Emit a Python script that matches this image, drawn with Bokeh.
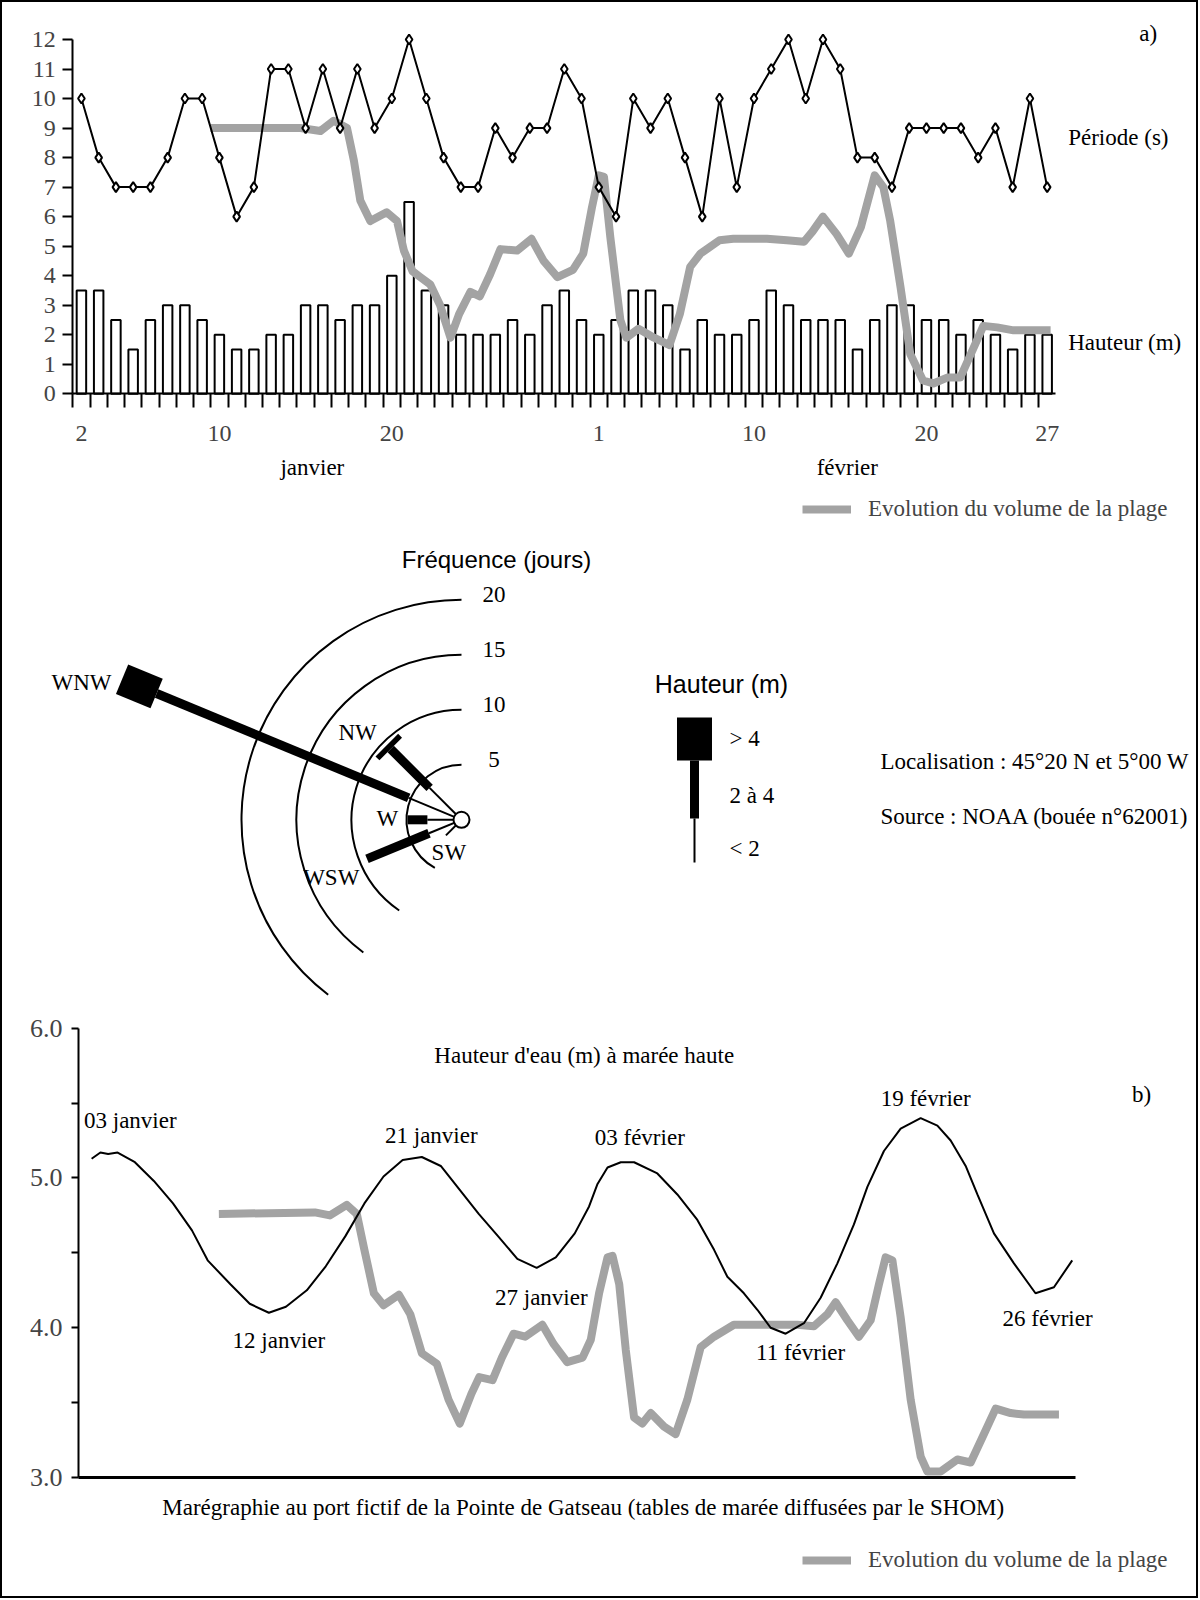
import math
from bokeh.plotting import figure
from bokeh.models import (FixedTicker, Label, Legend, LegendItem, LinearAxis,
                          Range1d, PrintfTickFormatter)
from bokeh.layouts import column
from bokeh.embed import file_html
from bokeh.resources import INLINE

SERIF = "Liberation Serif"
SANS = "Liberation Sans"
GREY = "#a3a3a3"
TXT = "23px"
TICK = "24px"

# ---------------- panel a) : houle journalière ----------------
days = list(range(2, 59))          # 2 janvier (=2) ... 27 février (=58)
hauteur = [3.5, 3.5, 2.5, 1.5, 2.5, 3, 3, 2.5, 2, 1.5, 1.5, 2, 2, 3, 3, 2.5, 3, 3, 4, 6.5,
           3.5, 3, 2, 2, 2, 2.5, 2, 3, 3.5, 2.5, 2, 2.5, 3.5, 3.5, 3, 1.5, 2.5, 2, 2, 2.5,
           3.5, 3, 2.5, 2.5, 2.5, 1.5, 2.5, 3, 3, 2.5, 2.5, 2, 2.5, 2, 1.5, 2, 2]
periode = [10, 8, 7, 7, 7, 8, 10, 10, 8, 6, 7, 11, 11, 9, 11, 9, 11, 9, 10, 12,
           10, 8, 7, 7, 9, 8, 9, 9, 11, 10, 7, 6, 10, 9, 10, 8, 6, 10, 7, 10, 11, 12, 10,
           12, 11, 8, 8, 7, 9, 9, 9, 9, 8, 9, 7, 10, 7]
vol_a_x = [9.48, 14.7, 15.86, 16.63, 17.4, 17.8, 18.17, 18.75, 19.7, 20.3, 20.7, 21.2, 21.65,
           22.23, 22.8, 23.4, 23.9, 24.55, 25.1, 25.7, 26.3, 27.26, 28.1, 28.8, 29.6, 30.5,
           31.1, 31.6, 32.0, 32.3, 32.67, 33.25, 33.6, 34.3, 35.2, 36.1, 36.7, 37.3, 37.9,
           39.0, 39.8, 41.75, 42.9, 43.9, 44.4, 45.0, 45.8, 46.5, 47.2, 48.0, 48.5, 48.9,
           49.5, 50.06, 50.8, 51.4, 52.2, 52.96, 53.5, 54.3, 55.1, 56.05, 58.2]
vol_a_y = [9.0, 9.0, 8.9, 9.25, 9.0, 7.9, 6.55, 5.85, 6.15, 5.85, 4.85, 4.15, 3.95, 3.7, 3.0,
           1.9, 2.7, 3.45, 3.3, 4.05, 4.9, 4.85, 5.25, 4.5, 3.95, 4.2, 4.75, 6.3, 7.4, 7.35,
           5.3, 2.5, 1.9, 2.2, 1.9, 1.65, 2.7, 4.3, 4.75, 5.2, 5.25, 5.25, 5.2, 5.15, 5.5,
           6.0, 5.4, 4.75, 5.65, 7.4, 7.0, 5.85, 3.6, 1.35, 0.45, 0.35, 0.55, 0.55, 1.25,
           2.3, 2.25, 2.15, 2.15]
xtick_pos = [2, 10, 20, 32, 41, 51, 58]
xtick_lab = ["2", "10", "20", "1", "10", "20", "27"]
ytick_a = list(range(0, 13))

# ---------------- rose des houles ----------------
ring_values = [5, 10, 15, 20]
ring_labels = ["5", "10", "15", "20"]
directions = ["WNW", "NW", "W", "WSW", "SW"]
dir_deg = [157.5, 135, 180, 202.5, 225]
jours_lt2 = [5.2, 4.1, 3.1, 3.2, 2.0]
jours_2a4 = [24.8, 5.0, 1.8, 6.1, 0.0]
jours_gt4 = [3.4, 0.5, 0.0, 0.0, 0.0]

# ---------------- panel b) : marégraphie ----------------
maree_x = [2.56, 3.07, 3.52, 4.07, 5.07, 6.17, 7.28, 8.38, 9.29, 10.61, 11.73, 12.84, 13.83,
           15.04, 16.14, 17.27, 18.38, 19.49, 20.6, 21.71, 22.81, 23.91, 25.01, 26.14, 27.25,
           28.37, 29.48, 30.58, 31.41, 31.9, 32.48, 33.25, 34.02, 35.37, 36.53, 37.69, 38.66,
           39.43, 40.39, 41.17, 41.94, 42.81, 43.87, 44.84, 45.81, 46.77, 47.55, 48.51, 49.48,
           50.64, 51.61, 52.38, 53.25, 53.93, 54.89, 56.05, 57.3, 58.37, 59.43]
maree_y = [5.128, 5.17, 5.16, 5.17, 5.105, 4.98, 4.83, 4.65, 4.45, 4.29, 4.16, 4.10, 4.14,
           4.25, 4.41, 4.61, 4.83, 5.01, 5.12, 5.14, 5.08, 4.92, 4.76, 4.61, 4.46, 4.40, 4.47,
           4.63, 4.81, 4.96, 5.07, 5.105, 5.105, 5.03, 4.89, 4.72, 4.52, 4.34, 4.23, 4.12,
           4.00, 3.96, 4.03, 4.20, 4.43, 4.69, 4.94, 5.18, 5.33, 5.40, 5.35, 5.25, 5.08, 4.89,
           4.63, 4.43, 4.23, 4.27, 4.45]
vol_b_x = [9.94, 12.84, 15.51, 16.38, 17.36, 17.94, 18.38, 18.93, 19.49, 20.38, 21.04, 21.71,
           22.58, 23.26, 23.91, 24.59, 25.04, 25.81, 26.35, 27.03, 27.7, 28.7, 29.36, 30.14,
           31.03, 31.51, 31.99, 32.48, 32.77, 33.16, 33.54, 34.02, 34.5, 34.99, 35.76, 36.43,
           37.11, 37.88, 38.66, 39.81, 41.75, 43.49, 44.45, 45.23, 45.71, 46.39, 47.06, 47.74,
           48.22, 48.61, 49.0, 49.48, 50.06, 50.64, 51.03, 51.8, 52.77, 53.54, 54.31, 54.99,
           55.86, 56.63, 58.66]
vol_b_y = [4.76, 4.765, 4.77, 4.75, 4.82, 4.76, 4.52, 4.23, 4.15, 4.22, 4.09, 3.83, 3.76, 3.52,
           3.36, 3.56, 3.67, 3.65, 3.80, 3.96, 3.94, 4.02, 3.89, 3.77, 3.80, 3.92, 4.23, 4.47,
           4.48, 4.29, 3.85, 3.40, 3.36, 3.43, 3.34, 3.29, 3.52, 3.87, 3.94, 4.02, 4.02, 4.02,
           4.01, 4.09, 4.17, 4.05, 3.94, 4.05, 4.29, 4.47, 4.45, 4.07, 3.52, 3.14, 3.04, 3.04,
           3.12, 3.10, 3.29, 3.46, 3.43, 3.42, 3.42]
ytick_b = [3, 4, 5, 6]
ytick_b_minor = [3.5, 4.5, 5.5]
dates_b = ["03 janvier", "12 janvier", "21 janvier", "27 janvier",
           "03 février", "11 février", "19 février", "26 février"]
dates_b_x = [2.12, 13.42, 22.26, 28.64, 34.35, 43.68, 50.93, 58.0]
dates_b_y = [5.384, 3.915, 5.284, 4.204, 5.272, 3.837, 5.529, 4.06]
dates_b_align = ["left", "center", "center", "center", "center", "center", "center", "center"]

W = 1194


def lab(p, x, y, text, size=TXT, align="left", font=SERIF):
    p.add_layout(Label(x=x, y=y, text=text, text_font=font, text_font_size=size,
                       text_align=align, text_baseline="middle", text_color="black"))


def base_fig(**kw):
    p = figure(output_backend="svg", toolbar_location=None, min_border=0,
               x_axis_location=None, y_axis_location=None, **kw)
    p.grid.visible = False
    p.outline_line_color = None
    p.background_fill_color = "white"
    p.border_fill_color = "white"
    return p


# =============== figure a ===============
p1 = base_fig(width=W, height=528, x_range=Range1d(-2.5764, 66.659),
              y_range=Range1d(-4.630, 13.253))

ya = LinearAxis(ticker=FixedTicker(ticks=ytick_a), fixed_location=1.5, bounds=(0, 12))
ya.major_tick_out = 10
ya.major_tick_in = 0
ya.major_tick_line_width = 2
ya.axis_line_width = 2
ya.major_label_standoff = 7
ya.major_label_text_font = SERIF
ya.major_label_text_font_size = TICK
p1.add_layout(ya, "left")

xa = LinearAxis(ticker=FixedTicker(ticks=xtick_pos, minor_ticks=[d - 0.5 for d in days]),
                fixed_location=0, bounds=(1.5, 58.5))
xa.major_label_overrides = {k: v for k, v in zip(xtick_pos, xtick_lab)}
xa.major_tick_out = 14
xa.major_tick_in = 0
xa.major_tick_line_color = None
xa.minor_tick_out = 14
xa.minor_tick_in = 0
xa.minor_tick_line_width = 2
xa.axis_line_width = 2
xa.major_label_standoff = 18
xa.major_label_text_font = SERIF
xa.major_label_text_font_size = TICK
p1.add_layout(xa, "below")

p1.vbar(x=days, top=hauteur, width=0.55, fill_color="white", line_color="black", line_width=2)
vol_a = p1.line(vol_a_x, vol_a_y, line_width=8, line_color=GREY, line_join="round")
p1.line(days, periode, line_width=2, line_color="black")
p1.scatter(days, periode, marker="diamond", size=10, fill_color="white",
           line_color="black", line_width=2)

lab(p1, 63.86, 12.2, "a)", align="center")
lab(p1, 59.22, 8.69, "Période (s)")
lab(p1, 59.22, 1.75, "Hauteur (m)")
lab(p1, 15.39, -2.49, "janvier", align="center")
lab(p1, 46.41, -2.49, "février", align="center")

leg1 = Legend(items=[LegendItem(label="Evolution du volume de la plage", renderers=[vol_a])],
              location=(800, 8), padding=0, margin=0, spacing=0,
              glyph_width=49, glyph_height=20, label_standoff=17,
              label_text_font=SERIF, label_text_font_size=TXT,
              border_line_color=None, background_fill_alpha=0)
p1.add_layout(leg1)

# =============== rose ===============
p2 = base_fig(width=W, height=480, x_range=Range1d(-41.727, 66.818),
              y_range=Range1d(-17.336, 26.3))
ring_end = [241, 235.5, 233.5, 232.7]
p2.arc(x=[0] * 4, y=[0] * 4, radius=ring_values, start_angle=[90] * 4, end_angle=ring_end,
       start_angle_units="deg", end_angle_units="deg", line_color="black", line_width=2)
for rv, rl in zip(ring_values, ring_labels):
    lab(p2, 2.95, rv + 0.45, rl, align="center")


def ray(r0, r1, deg):
    a = math.radians(deg)
    return r0 * math.cos(a), r0 * math.sin(a), r1 * math.cos(a), r1 * math.sin(a)


for d, a1, a2, a3 in zip(dir_deg, jours_lt2, jours_2a4, jours_gt4):
    if a1 > 0:
        x0, y0, x1, y1 = ray(0, a1, d)
        p2.segment(x0=[x0], y0=[y0], x1=[x1], y1=[y1], line_width=2, line_color="black")
    if a2 > 0:
        x0, y0, x1, y1 = ray(a1, a1 + a2, d)
        p2.segment(x0=[x0], y0=[y0], x1=[x1], y1=[y1], line_width=9, line_color="black",
                   line_cap="butt")
    if a3 > 0:
        x0, y0, x1, y1 = ray(a1 + a2, a1 + a2 + a3, d)
        p2.segment(x0=[x0], y0=[y0], x1=[x1], y1=[y1], line_width=32, line_color="black",
                   line_cap="butt")
p2.scatter([0], [0], marker="circle", size=16, fill_color="white", line_color="black",
           line_width=2)

dir_lab_x = [-34.55, -9.45, -6.75, -11.84, -1.15]
dir_lab_y = [12.48, 7.96, 0.09, -5.25, -2.95]
for t, x, y in zip(directions, dir_lab_x, dir_lab_y):
    lab(p2, x, y, t, align="center")

lab(p2, 3.18, 23.66, "Fréquence (jours)", size="24px", align="center", font=SANS)


# légende des hauteurs (positions en pixels de page -> unités de la rose)
def px2x(px):
    return (px - 461) / 11


def py2y(py):
    return (819.3 - py) / 11


lx = px2x(694)
p2.segment(x0=[lx], y0=[py2y(717)], x1=[lx], y1=[py2y(760)], line_width=35,
           line_color="black", line_cap="butt")
p2.segment(x0=[lx], y0=[py2y(760)], x1=[lx], y1=[py2y(818)], line_width=9,
           line_color="black", line_cap="butt")
p2.segment(x0=[lx], y0=[py2y(818)], x1=[lx], y1=[py2y(862)], line_width=2,
           line_color="black", line_cap="butt")
lab(p2, px2x(721), py2y(683), "Hauteur (m)", size="25px", align="center", font=SANS)
lab(p2, px2x(729), py2y(738), "> 4")
lab(p2, px2x(729), py2y(795), "2 à 4")
lab(p2, px2x(729), py2y(848), "< 2")
lab(p2, px2x(880), py2y(761), "Localisation : 45°20 N et 5°00 W")
lab(p2, px2x(880), py2y(816), "Source : NOAA (bouée n°62001)")

# =============== figure b ===============
p3 = base_fig(width=W, height=586, x_range=Range1d(-2.6076, 66.637),
              y_range=Range1d(2.2054, 6.1182))
yb = LinearAxis(ticker=FixedTicker(ticks=ytick_b, minor_ticks=ytick_b_minor),
                formatter=PrintfTickFormatter(format="%.1f"), fixed_location=1.8, bounds=(3, 6))
yb.major_tick_out = 7
yb.major_tick_in = 0
yb.minor_tick_out = 7
yb.minor_tick_in = 0
yb.major_tick_line_width = 2
yb.minor_tick_line_width = 2
yb.axis_line_width = 2
yb.major_label_standoff = 9
yb.major_label_text_font = SERIF
yb.major_label_text_font_size = "26px"
p3.add_layout(yb, "left")
xb = LinearAxis(ticker=FixedTicker(ticks=[]), fixed_location=3, bounds=(1.8, 59.62))
xb.axis_line_width = 3
xb.major_tick_line_color = None
xb.minor_tick_line_color = None
p3.add_layout(xb, "below")

vol_b = p3.line(vol_b_x, vol_b_y, line_width=8, line_color=GREY, line_join="round")
p3.line(maree_x, maree_y, line_width=2, line_color="black")

for t, x, y, al in zip(dates_b, dates_b_x, dates_b_y, dates_b_align):
    lab(p3, x, y, t, align=al)
lab(p3, 31.13, 5.818, "Hauteur d'eau (m) à marée haute", align="center")
lab(p3, 63.45, 5.557, "b)", align="center")
lab(p3, 31.07, 2.802,
    "Marégraphie au port fictif de la Pointe de Gatseau (tables de marée diffusées par le SHOM)",
    align="center")

leg3 = Legend(items=[LegendItem(label="Evolution du volume de la plage", renderers=[vol_b])],
              location=(800, 23), padding=0, margin=0, spacing=0,
              glyph_width=49, glyph_height=20, label_standoff=17,
              label_text_font=SERIF, label_text_font_size=TXT,
              border_line_color=None, background_fill_alpha=0)
p3.add_layout(leg3)

root = column(p1, p2, p3, spacing=0, styles={"border": "2px solid black"})
open("out.html", "w").write(file_html(root, INLINE))
